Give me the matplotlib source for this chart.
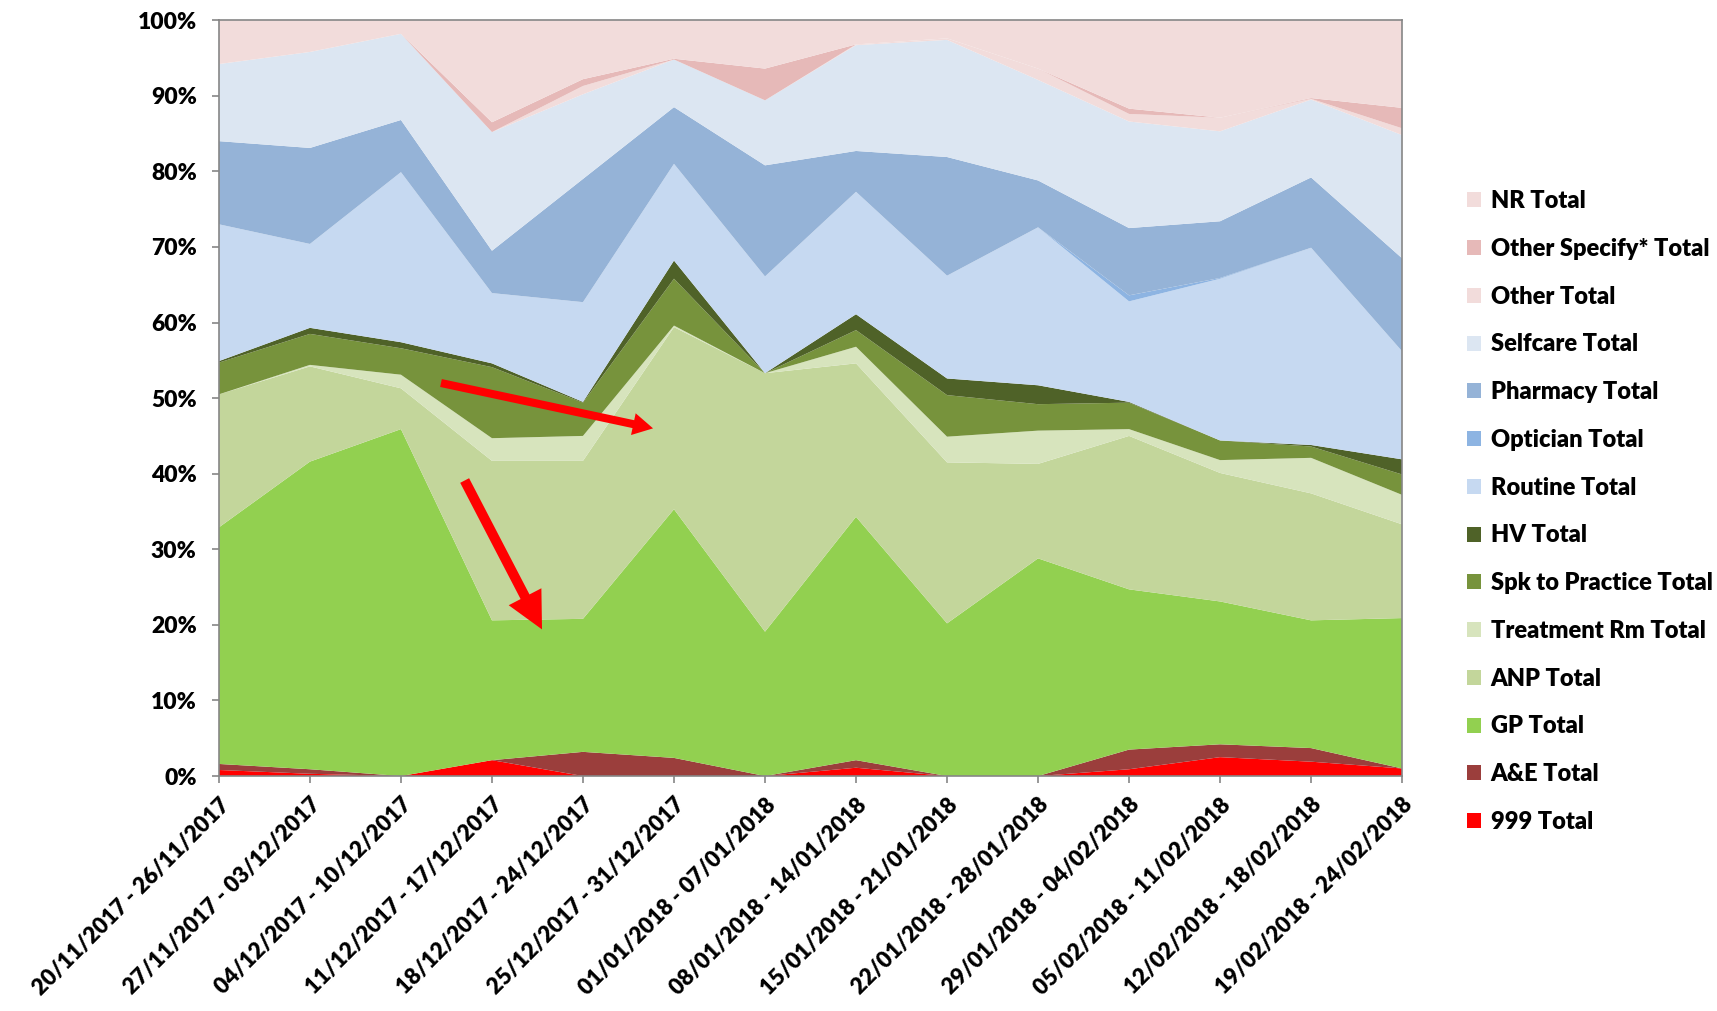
import matplotlib.pyplot as plt
import numpy as np

plt.rcParams['font.family'] = ['Lato', 'DejaVu Sans']

weeks = [
    "20/11/2017 - 26/11/2017", "27/11/2017 - 03/12/2017", "04/12/2017 - 10/12/2017",
    "11/12/2017 - 17/12/2017", "18/12/2017 - 24/12/2017", "25/12/2017 - 31/12/2017",
    "01/01/2018 - 07/01/2018", "08/01/2018 - 14/01/2018", "15/01/2018 - 21/01/2018",
    "22/01/2018 - 28/01/2018", "29/01/2018 - 04/02/2018", "05/02/2018 - 11/02/2018",
    "12/02/2018 - 18/02/2018", "19/02/2018 - 24/02/2018",
]

# share of each outcome per week (%), bottom of the stack first
total_999 = [0.8, 0.3, 0.0, 2.1, 0.0, 0.0, 0.0, 1.1, 0.0, 0.0, 0.9, 2.5, 1.9, 1.0]
ae = [0.8, 0.6, 0.0, 0.0, 3.2, 2.4, 0.0, 1.0, 0.0, 0.0, 2.6, 1.7, 1.8, 0.0]
gp = [31.3, 40.7, 45.9, 18.5, 17.6, 32.9, 19.1, 32.2, 20.2, 28.8, 21.2, 18.9, 16.9, 19.9]
anp = [17.6, 12.6, 5.4, 21.1, 20.9, 24.1, 34.2, 20.3, 21.3, 12.5, 20.3, 17.0, 16.8, 12.4]
treatment_rm = [0.0, 0.2, 1.8, 3.0, 3.3, 0.2, 0.0, 2.2, 3.4, 4.4, 0.9, 1.7, 4.7, 3.9]
spk_practice = [4.2, 4.1, 3.5, 9.4, 4.4, 6.2, 0.0, 2.2, 5.5, 3.5, 3.5, 2.6, 1.5, 2.7]
hv = [0.2, 0.8, 0.8, 0.5, 0.1, 2.4, 0.0, 2.1, 2.2, 2.5, 0.1, 0.0, 0.2, 2.0]
routine = [18.1, 11.1, 22.5, 9.3, 13.2, 12.8, 12.8, 16.2, 13.6, 20.9, 13.3, 21.4, 26.1, 14.3]
optician = [0.0, 0.0, 0.0, 0.0, 0.0, 0.0, 0.0, 0.0, 0.0, 0.0, 0.8, 0.1, 0.0, 0.0]
pharmacy = [11.0, 12.7, 6.9, 5.6, 16.3, 7.5, 14.7, 5.4, 15.7, 6.2, 8.9, 7.5, 9.3, 12.3]
selfcare = [10.2, 12.7, 11.4, 15.7, 11.2, 6.3, 8.6, 14.0, 15.5, 13.3, 14.1, 11.9, 10.3, 16.3]
other = [0.0, 0.0, 0.0, 0.0, 1.1, 0.0, 0.0, 0.1, 0.2, 1.5, 1.0, 1.8, 0.1, 0.9]
other_specify = [0.0, 0.0, 0.0, 1.3, 0.9, 0.1, 4.2, 0.0, 0.0, 0.0, 0.7, 0.0, 0.1, 2.7]
nr = [5.8, 4.2, 1.8, 13.5, 7.8, 5.1, 6.4, 3.2, 2.4, 6.4, 11.7, 12.9, 10.3, 11.6]

series = [total_999, ae, gp, anp, treatment_rm, spk_practice, hv, routine,
          optician, pharmacy, selfcare, other, other_specify, nr]
labels = ["999 Total", "A&E Total", "GP Total", "ANP Total", "Treatment Rm Total",
          "Spk to Practice Total", "HV Total", "Routine Total", "Optician Total",
          "Pharmacy Total", "Selfcare Total", "Other Total", "Other Specify* Total",
          "NR Total"]
colors = ["#FF0000", "#9B3E3C", "#92D050", "#C3D69B", "#D7E4BD", "#77933C",
          "#4F6228", "#C6D9F1", "#8DB4E2", "#95B3D7", "#DCE6F2", "#F2DCDB",
          "#E6B9B8", "#F2DCDB"]

fig = plt.figure(figsize=(17.17, 10.11), dpi=100)
ax = fig.add_axes([0.1275, 0.2324, 0.6891, 0.7476])

x = np.arange(len(weeks))
ax.stackplot(x, *series, colors=colors, labels=labels, linewidth=0)

ax.set_xlim(0, len(weeks) - 1)
ax.set_ylim(0, 100)
ax.set_yticks(np.arange(0, 101, 10))
ax.set_yticklabels([f"{v}%" for v in range(0, 101, 10)], fontsize=16.5, fontweight='heavy')
ax.set_xticks(x)
ax.set_xticklabels(weeks, rotation=45, ha='right', rotation_mode='anchor',
                   fontsize=16, fontweight='heavy')

for side in ['left', 'bottom', 'top', 'right']:
    ax.spines[side].set_color('#868686')
    ax.spines[side].set_linewidth(1.2)
ax.tick_params(axis='both', direction='out', color='#868686', width=1.2, length=5)
ax.tick_params(axis='x', pad=8)
ax.tick_params(axis='y', pad=11)

# trend arrows
ax.annotate('', xy=(4.77, 46.0), xytext=(2.44, 52.0),
            arrowprops=dict(facecolor='#FF0000', edgecolor='none',
                            width=5.8, headwidth=16, headlength=14.5))
ax.annotate('', xy=(3.55, 19.4), xytext=(2.70, 39.1),
            arrowprops=dict(facecolor='#FF0000', edgecolor='none',
                            width=7.2, headwidth=26.5, headlength=26.5))

handles, leg_labels = ax.get_legend_handles_labels()
fig.legend(handles[::-1], leg_labels[::-1], loc='center left',
           bbox_to_anchor=(0.842, 0.494), frameon=False,
           prop={'size': 17, 'weight': 'heavy'},
           handlelength=0.6, handleheight=0.6, handletextpad=0.4,
           labelspacing=1.09)

fig.savefig('out.png', dpi=100)
